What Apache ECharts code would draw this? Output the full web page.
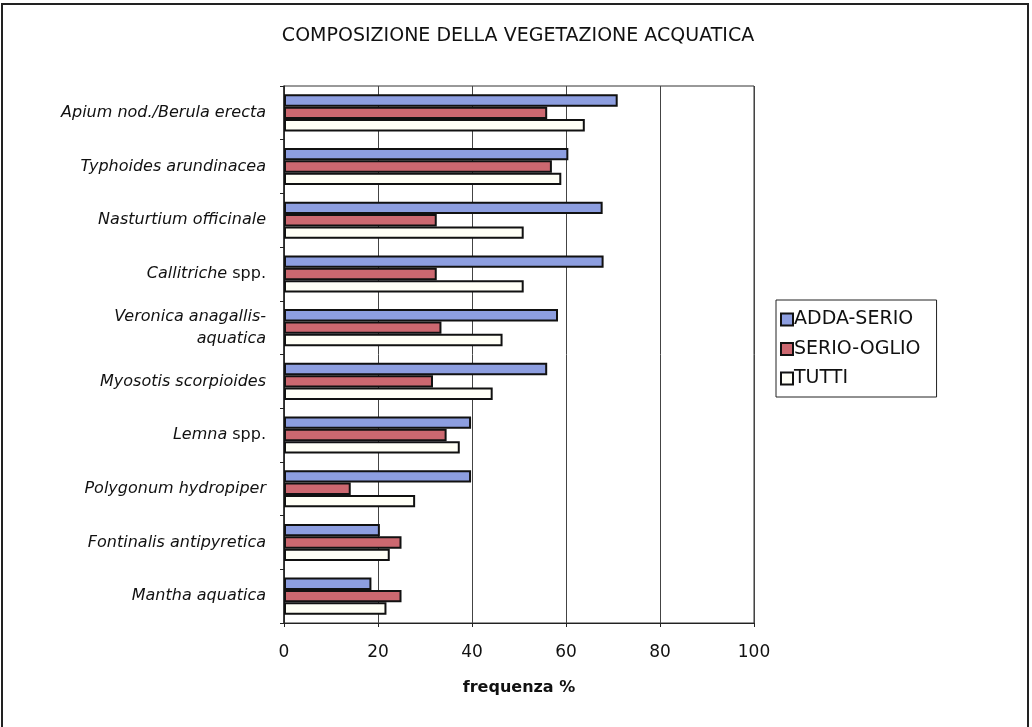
<!DOCTYPE html>
<html>
<head>
<meta charset="utf-8">
<script src="https://cdn.jsdelivr.net/npm/echarts@6/dist/echarts.min.js"></script>
<style>
    html, body { margin: 0; padding: 0; background: #fff; }
    #chart { width: 1032px; height: 727px; }
</style>
</head>
<body>
<div id="chart"></div>
<script>
    // dati
    var categories = [
        'Apium nod./Berula erecta',
        'Typhoides arundinacea',
        'Nasturtium officinale',
        'Callitriche spp.',
        'Veronica anagallis-\naquatica',
        'Myosotis scorpioides',
        'Lemna spp.',
        'Polygonum hydropiper',
        'Fontinalis antipyretica',
        'Mantha aquatica'
    ];
    var addaSerio = [71, 60.5, 67.8, 68, 58.3, 56, 39.8, 39.8, 20.4, 18.6];
    var serioOglio = [56, 57, 32.5, 32.5, 33.5, 31.7, 34.6, 14.2, 25, 25];
    var tutti = [64, 59, 51, 51, 46.5, 44.4, 37.4, 27.9, 22.5, 21.8];
    var xTicks = [0, 20, 40, 60, 80, 100];

    var font = '"DejaVu Sans", "Liberation Sans", Arial, sans-serif';

    var myChart = echarts.init(document.getElementById('chart'));

    function barSeries(name, data, color) {
        return {
            name: name,
            type: 'bar',
            data: data,
            barGap: '0%',
            barCategoryGap: '31%',
            itemStyle: {
                color: color,
                borderColor: '#111',
                borderWidth: 2
            },
            animation: false
        };
    }

    var option = {
        backgroundColor: '#fff',
        title: {
            text: 'COMPOSIZIONE DELLA VEGETAZIONE ACQUATICA',
            left: 513,
            top: 22,
            textAlign: 'center',
            textStyle: {
                fontFamily: font,
                fontSize: 19,
                fontWeight: 'normal',
                color: '#111'
            }
        },
        graphic: [{
            type: 'rect',
            shape: { x: 2, y: 4, width: 1026, height: 760 },
            style: { fill: null, stroke: '#222', lineWidth: 2 },
            silent: true
        }],
        legend: {
            orient: 'vertical',
            left: 776,
            top: 300,
            icon: 'rect',
            itemWidth: 12,
            itemHeight: 12,
            itemGap: 10.5,
            padding: [10, 16, 9, 4],
            borderColor: '#222',
            borderWidth: 1,
            textStyle: { fontFamily: font, fontSize: 19, color: '#111', padding: [0, 0, 0, -4] },
            data: ['ADDA-SERIO', 'SERIO-OGLIO', 'TUTTI']
        },
        grid: {
            left: 284,
            right: 278,
            top: 86,
            bottom: 104,
            show: true,
            borderColor: '#333',
            borderWidth: 1
        },
        xAxis: {
            type: 'value',
            min: xTicks[0],
            max: xTicks[xTicks.length - 1],
            interval: 20,
            name: 'frequenza %',
            nameLocation: 'middle',
            nameGap: 57,
            nameTextStyle: { fontFamily: font, fontSize: 16, fontWeight: 'bold', color: '#111' },
            axisLine: { show: true, lineStyle: { color: '#222', width: 1 } },
            axisTick: { show: true, length: 4, inside: false, lineStyle: { color: '#222' } },
            axisLabel: { fontFamily: font, fontSize: 17, color: '#111', margin: 21 },
            splitLine: { show: true, lineStyle: { color: '#444', width: 1 } }
        },
        yAxis: {
            type: 'category',
            inverse: true,
            data: categories,
            axisLine: { show: true, lineStyle: { color: '#222', width: 1.5 } },
            axisTick: { show: true, length: 4, lineStyle: { color: '#222' } },
            axisLabel: {
                margin: 18,
                fontFamily: font,
                fontSize: 16,
                fontStyle: 'italic',
                color: '#111',
                lineHeight: 22,
                formatter: function (v) {
                    var m = v.match(/^(\S+) spp\.$/);
                    if (m) {
                        return '{i|' + m[1] + '} {r|spp.}';
                    }
                    return v;
                },
                rich: {
                    i: { fontFamily: font, fontSize: 16, fontStyle: 'italic', color: '#111' },
                    r: { fontFamily: font, fontSize: 16, fontStyle: 'normal', color: '#111' }
                }
            }
        },
        series: [
            barSeries('ADDA-SERIO', addaSerio, '#8d9ee0'),
            barSeries('SERIO-OGLIO', serioOglio, '#cc6870'),
            barSeries('TUTTI', tutti, '#fffff6')
        ]
    };

    myChart.setOption(option);
</script>
</body>
</html>
